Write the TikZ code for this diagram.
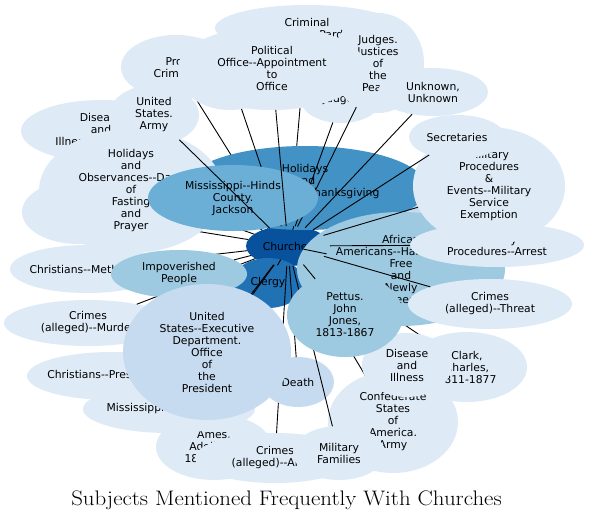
\documentclass[tikz,border=0pt]{standalone}
\usepackage{fontspec}
\newfontfamily\nodefont{DejaVu Sans}
\usetikzlibrary{shapes.geometric}
\definecolor{lite}{HTML}{DEEBF7}
\definecolor{pale}{HTML}{C6DBEF}
\definecolor{midb}{HTML}{9ECAE1}
\definecolor{cmh}{HTML}{6BAED6}
\definecolor{ctg}{HTML}{4292C6}
\definecolor{ccl}{HTML}{2171B5}
\definecolor{cch}{HTML}{08519C}
\newcommand\hh{-\kern0pt-}
\newcommand\bubdef[5]{%
  \node[anchorel, minimum width=2*#4pt, minimum height=2*#5pt] (#1) at (#2,#3) {};%
  \expandafter\def\csname rx-#1\endcsname{#4}%
  \expandafter\def\csname ry-#1\endcsname{#5}}
\newcommand\bubshow[3]{%
  \expandafter\let\expandafter\tmprx\csname rx-#1\endcsname
  \expandafter\let\expandafter\tmpry\csname ry-#1\endcsname
  \fill[#2] (#1.center) ellipse [x radius=\tmprx pt, y radius=\tmpry pt];
  \node[lbl] (#1-t) at (#1.center) {#3};}
\newcommand\bubedge[1]{\draw[conn] (ch) -- (#1);}
\begin{document}
\begin{tikzpicture}[x=1pt,y=-1pt,
  anchorel/.style={ellipse, draw=none, fill=none, inner sep=0pt, outer sep=0pt},
  lbl/.style={font=\nodefont\fontsize{10.8}{12}\selectfont, align=center, inner sep=0pt, text=black},
  conn/.style={draw=black, line width=0.9pt}]
\useasboundingbox (0,0) rectangle (589,520);
\fill[white] (0,0) rectangle (589,520);
% geometry (name, x, y, rx, ry)
\bubdef{cr}{307}{28}{92}{23}
\bubdef{pf}{176}{67}{55}{32}
\bubdef{dl}{101}{131}{80}{31}
\bubdef{dot}{78}{212}{56}{32}
\bubdef{cme}{87}{269}{77}{24}
\bubdef{cm}{88}{323}{84}{23}
\bubdef{cp}{112}{376}{85}{24}
\bubdef{am}{214}{447}{58}{33}
\bubdef{lb}{412}{213}{42}{14}
\bubdef{ch}{288}{246}{42}{20}
\bubdef{tg}{305}{188}{122}{42}
\bubdef{fa}{131}{191}{92}{62}
\bubdef{uj}{341}{100}{40}{23}
\bubdef{ju}{378}{63}{46}{50}
\bubdef{hn}{230}{75}{50}{35}
\bubdef{mh}{233}{198}{85}{33}
\bubdef{po}{272}{68}{94}{42}
\bubdef{un}{433}{92}{55}{24}
\bubdef{ua}{154}{115}{45}{30}
\bubdef{cl}{268}{283}{36}{25}
\bubdef{cc}{467}{367}{60}{35}
\bubdef{cs}{393}{422}{65}{51}
\bubdef{ca}{275}{458}{80}{25}
\bubdef{ml}{169}{409}{86}{24}
\bubdef{de}{298}{382}{36}{25}
\bubdef{mf}{339}{453}{46}{27}
\bubdef{di}{407}{365}{45}{32}
\bubdef{ip}{179}{274}{68}{24}
\bubdef{ex}{207}{352}{84}{68}
\bubdef{aa}{401}{269}{104}{57}
\bubdef{pt}{345}{315}{58}{42}
\bubdef{th}{490}{304}{82}{25}
\bubdef{ar}{497}{245}{87}{22}
\bubdef{me}{489}{186}{76}{59}
\bubdef{se}{457}{137}{48}{22}
% drawing order
\bubshow{cr}{lite}{Criminal\\Procedures\hh Pardons}
\bubshow{pf}{lite}{Prof\\Criminal}
\bubshow{dl}{lite}{Disease\\and\\Illness\hh Smallpox}
\bubshow{dot}{lite}{}
\bubshow{cme}{lite}{Christians\hh Methodist}
\bubshow{cm}{lite}{Crimes\\(alleged)\hh Murder}
\bubshow{cp}{lite}{Christians\hh Presbyterian}
\bubshow{am}{lite}{Ames.\\Adelbert,\\1835-1933}
\bubshow{lb}{pale}{}
\bubshow{ch}{cch}{Churches}
\bubedge{cr}\bubedge{pf}\bubedge{dl}\bubedge{dot}\bubedge{cme}
\bubedge{cm}\bubedge{cp}\bubedge{am}\bubedge{lb}
\bubshow{tg}{ctg}{Holidays\\and\\Observances\hh Thanksgiving\\Day}\bubedge{tg}
\bubshow{fa}{lite}{Holidays\\and\\Observances\hh Days\\of\\Fasting\\and\\Prayer}\bubedge{fa}
\bubshow{uj}{lite}{Judges}\bubedge{uj}
\bubshow{ju}{lite}{Judges.\\Justices\\of\\the\\Peace}\bubedge{ju}
\bubshow{hn}{lite}{}\bubedge{hn}
\bubshow{mh}{cmh}{Mississippi\hh Hinds\\County.\\Jackson}\bubedge{mh}
\bubshow{po}{lite}{Political\\Office\hh Appointment\\to\\Office}\bubedge{po}
\bubshow{un}{lite}{Unknown,\\Unknown}\bubedge{un}
\bubshow{ua}{lite}{United\\States.\\Army}\bubedge{ua}
\bubshow{cl}{ccl}{Clergy}\bubedge{cl}
\bubshow{cc}{lite}{Clark,\\Charles,\\1811-1877}\bubedge{cc}
\bubshow{cs}{lite}{Confederate\\States\\of\\America.\\Army}\bubedge{cs}
\bubshow{ca}{lite}{Crimes\\(alleged)\hh Arson}\bubedge{ca}
\bubshow{ml}{lite}{Mississippi\hh Legislature}\bubedge{ml}
\bubshow{de}{pale}{Death}\bubedge{de}
\bubshow{mf}{lite}{Military\\Families}\bubedge{mf}
\bubshow{di}{lite}{Disease\\and\\Illness}\bubedge{di}
\bubshow{ip}{midb}{Impoverished\\People}\bubedge{ip}
\bubshow{ex}{pale}{United\\States\hh Executive\\Department.\\Office\\of\\the\\President}\bubedge{ex}
\bubshow{aa}{midb}{African\\Americans\hh Harassment\\Free\\and\\Newly\\Freed}\bubedge{aa}
\bubshow{pt}{midb}{Pettus.\\John\\Jones,\\1813-1867}\bubedge{pt}
\bubshow{th}{lite}{Crimes\\(alleged)\hh Threat}\bubedge{th}
\bubshow{ar}{lite}{Military\\Procedures\hh Arrest}\bubedge{ar}
\bubshow{me}{lite}{Military\\Procedures\\\&\\Events\hh Military\\Service\\Exemption}\bubedge{me}
\bubshow{se}{lite}{Secretaries}\bubedge{se}
\node[anchor=base, font=\fontsize{21}{24}\selectfont, inner sep=0pt] (title) at (286.5,505) {\scalebox{1.09}[1]{Subjects Mentioned Frequently With Churches}};
\end{tikzpicture}
\end{document}
